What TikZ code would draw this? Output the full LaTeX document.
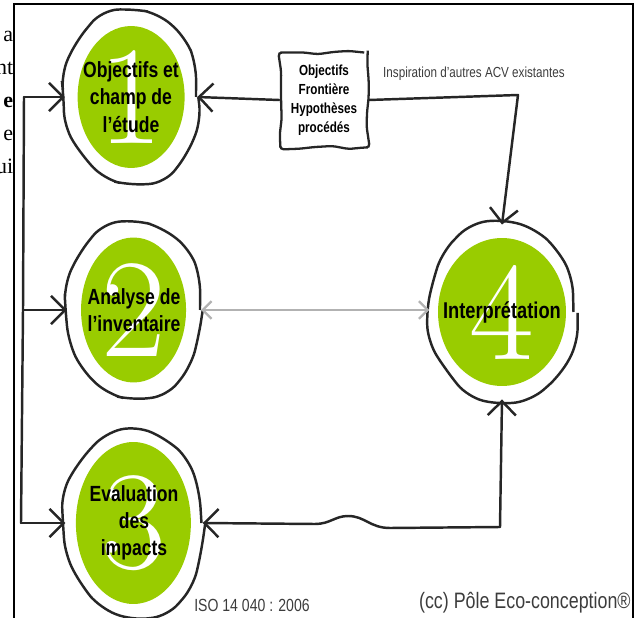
\documentclass[tikz,border=0pt]{standalone}
\usepackage{fontspec}
\usetikzlibrary{arrows.meta,shapes.geometric,decorations.pathmorphing}
\newfontfamily\narrowsans[FakeStretch=0.8]{Liberation Sans}
\newfontfamily\fragserif{Liberation Serif}
\definecolor{stagegreen}{RGB}{153,204,0}
\definecolor{inkgray}{RGB}{60,60,60}
\definecolor{linkgray}{RGB}{178,178,178}

\tikzset{
  sketch/.style={decorate, decoration={random steps, segment length=18pt, amplitude=1.8pt}, rounded corners=9pt},
  stage/.style n args={3}{ellipse, draw=black!85, line width=1.4pt, sketch, align=center,
    inner sep=0pt, inner xsep=-0.5cm, font=\narrowsans\bfseries\fontsize{12.5}{15.5}\selectfont,
    path picture={
      \fill[stagegreen] (path picture bounding box.center) ellipse [x radius=#2, y radius=#3];
      \node[white, font=\fontsize{80}{80}\selectfont] at (path picture bounding box.center) {#1};
    }},
  notebox/.style={draw=black!85, line width=1.3pt, decorate, decoration={random steps, segment length=9pt, amplitude=1pt},
    rounded corners=2pt, align=center, inner sep=2pt,
    minimum width=1.75cm, minimum height=1.9cm, font=\narrowsans\bfseries\fontsize{8.3}{10.8}\selectfont},
  wire/.style={black!85, line width=1.4pt, line cap=round, line join=round},
  arrow/.style={wire, -{Straight Barb[length=8pt,width=16pt]}},
  grayarrow/.style={linkgray, line width=1.3pt, {Straight Barb[length=5pt,width=10pt]}-{Straight Barb[length=5pt,width=10pt]}},
  caption/.style={text=inkgray, font=\narrowsans\fontsize{8.3}{10}\selectfont},
  fragment/.style={inner sep=0pt, font=\fragserif\fontsize{12.5}{15}\selectfont},
  frame/.style={line width=0.9pt}
}

\begin{document}
\begin{tikzpicture}[x=0.02cm, y=-0.02cm]
  \pgfmathsetseed{5}
  \useasboundingbox (0,0) rectangle (639,618);

  \foreach \txt/\yy [count=\i] in {a/42, nt/75, {\textbf{e}}/108, e/141, ui/174}
    \node[fragment, anchor=base east] (frag\i) at (13.5,\yy) {\txt};
  \draw[frame] (14,618) -- (14,4) -- (633,4) -- (633,618);

  \node[stage={1}{1.07cm}{1.42cm}, minimum width=2.6cm, minimum height=3.35cm] (c1) at (131,97) {Objectifs et\\champ de\\l’étude};
  \node[stage={2}{1.05cm}{1.45cm}, minimum width=2.64cm, minimum height=3.4cm] (c2) at (134,310) {Analyse de\\l’inventaire};
  \node[stage={3}{1.15cm}{1.62cm}, minimum width=2.7cm, minimum height=3.6cm] (c3) at (134,523) {Evaluation\\des\\impacts};
  \node[stage={4}{1.28cm}{1.48cm}, minimum width=2.86cm, minimum height=3.45cm, font=\narrowsans\bfseries\fontsize{13}{15.5}\selectfont] (c4) at (502,312) {Interprétation};

  \node[notebox] (box) at (324,100) {Objectifs\\Frontière\\Hypothèses\\procédés};
  \node[caption] (insp) at (474,74) {Inspiration d’autres ACV existantes};

  \coordinate (lt) at (24,97);
  \coordinate (lm) at (23,310);
  \coordinate (lb) at (21,523);
  \coordinate (ic) at (518,95);
  \coordinate (bc) at (500,527);

  \draw[wire] (lt) -- (lm) -- (lb);
  \draw[arrow] (lt) -- (c1.west);
  \draw[arrow] (lm) -- (c2.west);
  \draw[arrow] (lb) -- (c3.west);
  \draw[arrow] (box.west) -- (c1.east);
  \draw[arrow] (box.east) -- (ic) -- (c4.north);
  \draw[arrow] (bc) -- (c4.south);
  \draw[arrow] (bc) -- (390,528) .. controls (370,528) and (365,516) .. (348,516)
    .. controls (335,516) and (330,524) .. (315,524) -- (c3.east);
  \draw[grayarrow] (c2.east) -- (c2.east -| c4.west);

  \node[caption, font=\narrowsans\fontsize{10}{12}\selectfont] (iso) at (252,605) {ISO 14 040 : 2006};
  \node[caption, anchor=east, inner sep=0pt, font=\narrowsans\fontsize{12.7}{14}\selectfont] (credit) at (631,603) {(cc) Pôle Eco-conception®};
\end{tikzpicture}
\end{document}
